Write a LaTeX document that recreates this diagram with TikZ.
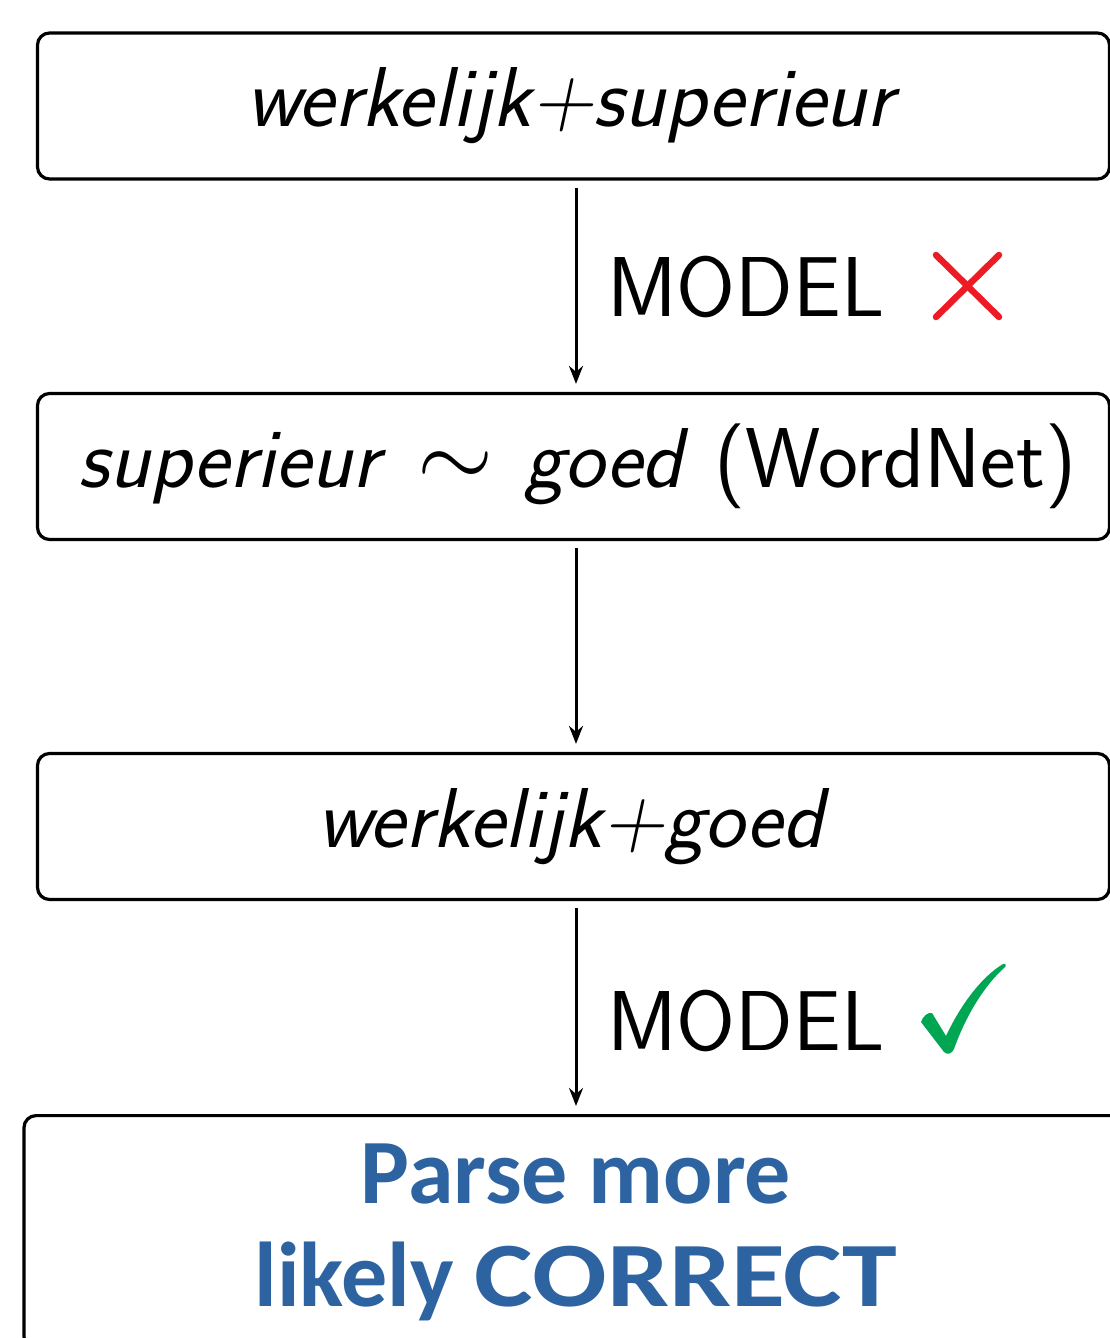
\RequirePackage{fix-cm}
\documentclass[tikz,border=0pt]{standalone}
\usepackage{fontspec}
\newfontfamily\calibri{Carlito}
\newfontfamily\calibriwide{Carlito}[FakeStretch=1.2]
\usetikzlibrary{arrows.meta}
\definecolor{boxblue}{RGB}{46,99,161}
\definecolor{crossred}{RGB}{237,28,36}
\definecolor{checkgreen}{RGB}{0,166,81}
\begin{document}
\begin{tikzpicture}[x=1pt,y=-1pt,
  stepbox/.style={draw, line width=3.2pt, rounded corners=12pt,
    minimum width=1072pt, minimum height=146pt, inner sep=0pt,
    font=\sffamily\fontsize{85}{100}\selectfont},
  flow/.style={line width=3pt, shorten <=7pt, shorten >=8pt,
    -{Stealth[length=18pt,width=14pt,inset=6pt]}},
  lbl/.style={anchor=base west, inner sep=0pt,
    font=\sffamily\fontsize{85}{100}\selectfont},
  crossline/.style={crossred, line width=6.5pt, line cap=round}]
\useasboundingbox (0,0) rectangle (1110,1338);
\clip (0,0) rectangle (1110,1338);

% the chain of steps
\node[stepbox] (b1) at (573.5,106) {\textit{werkelijk+superieur}};
\node[stepbox] (b2) at (573.5,466.5)
  {\hspace*{8pt}\textit{superieur}\hspace{31pt}\scalebox{1.15}{$\sim$}\hspace{31pt}\textit{goed}\hspace{25pt}(WordNet)};
\node[stepbox] (b3) at (573.5,826.5) {\textit{werkelijk+goed}};
\node[stepbox, anchor=north, minimum width=1104pt, align=center,
  inner xsep=0pt, inner ysep=28pt, text=boxblue,
  font=\calibri\bfseries\fontsize{92}{103}\selectfont]
  (b4) at (576,1114) {Parse more\\likely {\calibriwide\bfseries CORRECT}};

% arrows between the steps
\coordinate (a1) at ([xshift=2.5pt]b1.south);
\coordinate (a2) at ([xshift=2.5pt]b2.south);
\coordinate (a3) at ([xshift=2.5pt]b3.south);
\draw[flow] (a1) -- (a1 |- b2.north);
\draw[flow] (a2) -- (a2 |- b3.north);
\draw[flow] (a3) -- (a3 |- b4.north);

% model verdicts
\node[lbl] (m1) at (607,316) {MODEL};
\node[lbl] (m2) at (607,1050) {MODEL};

% red cross
\draw[crossline] (936,255) -- (999,317);
\draw[crossline] (999,255) -- (936,317);

% green check mark
\fill[checkgreen] (921,1022) .. controls (923,1016) and (928,1012) .. (932,1013)
  -- (946,1036)
  .. controls (962,1002) and (983,976) .. (1003,964)
  .. controls (1006,963) and (1007,966) .. (1004,968)
  .. controls (985,985) and (966,1015) .. (954,1049)
  .. controls (952,1054) and (947,1055) .. (944,1052)
  -- cycle;
\end{tikzpicture}
\end{document}
